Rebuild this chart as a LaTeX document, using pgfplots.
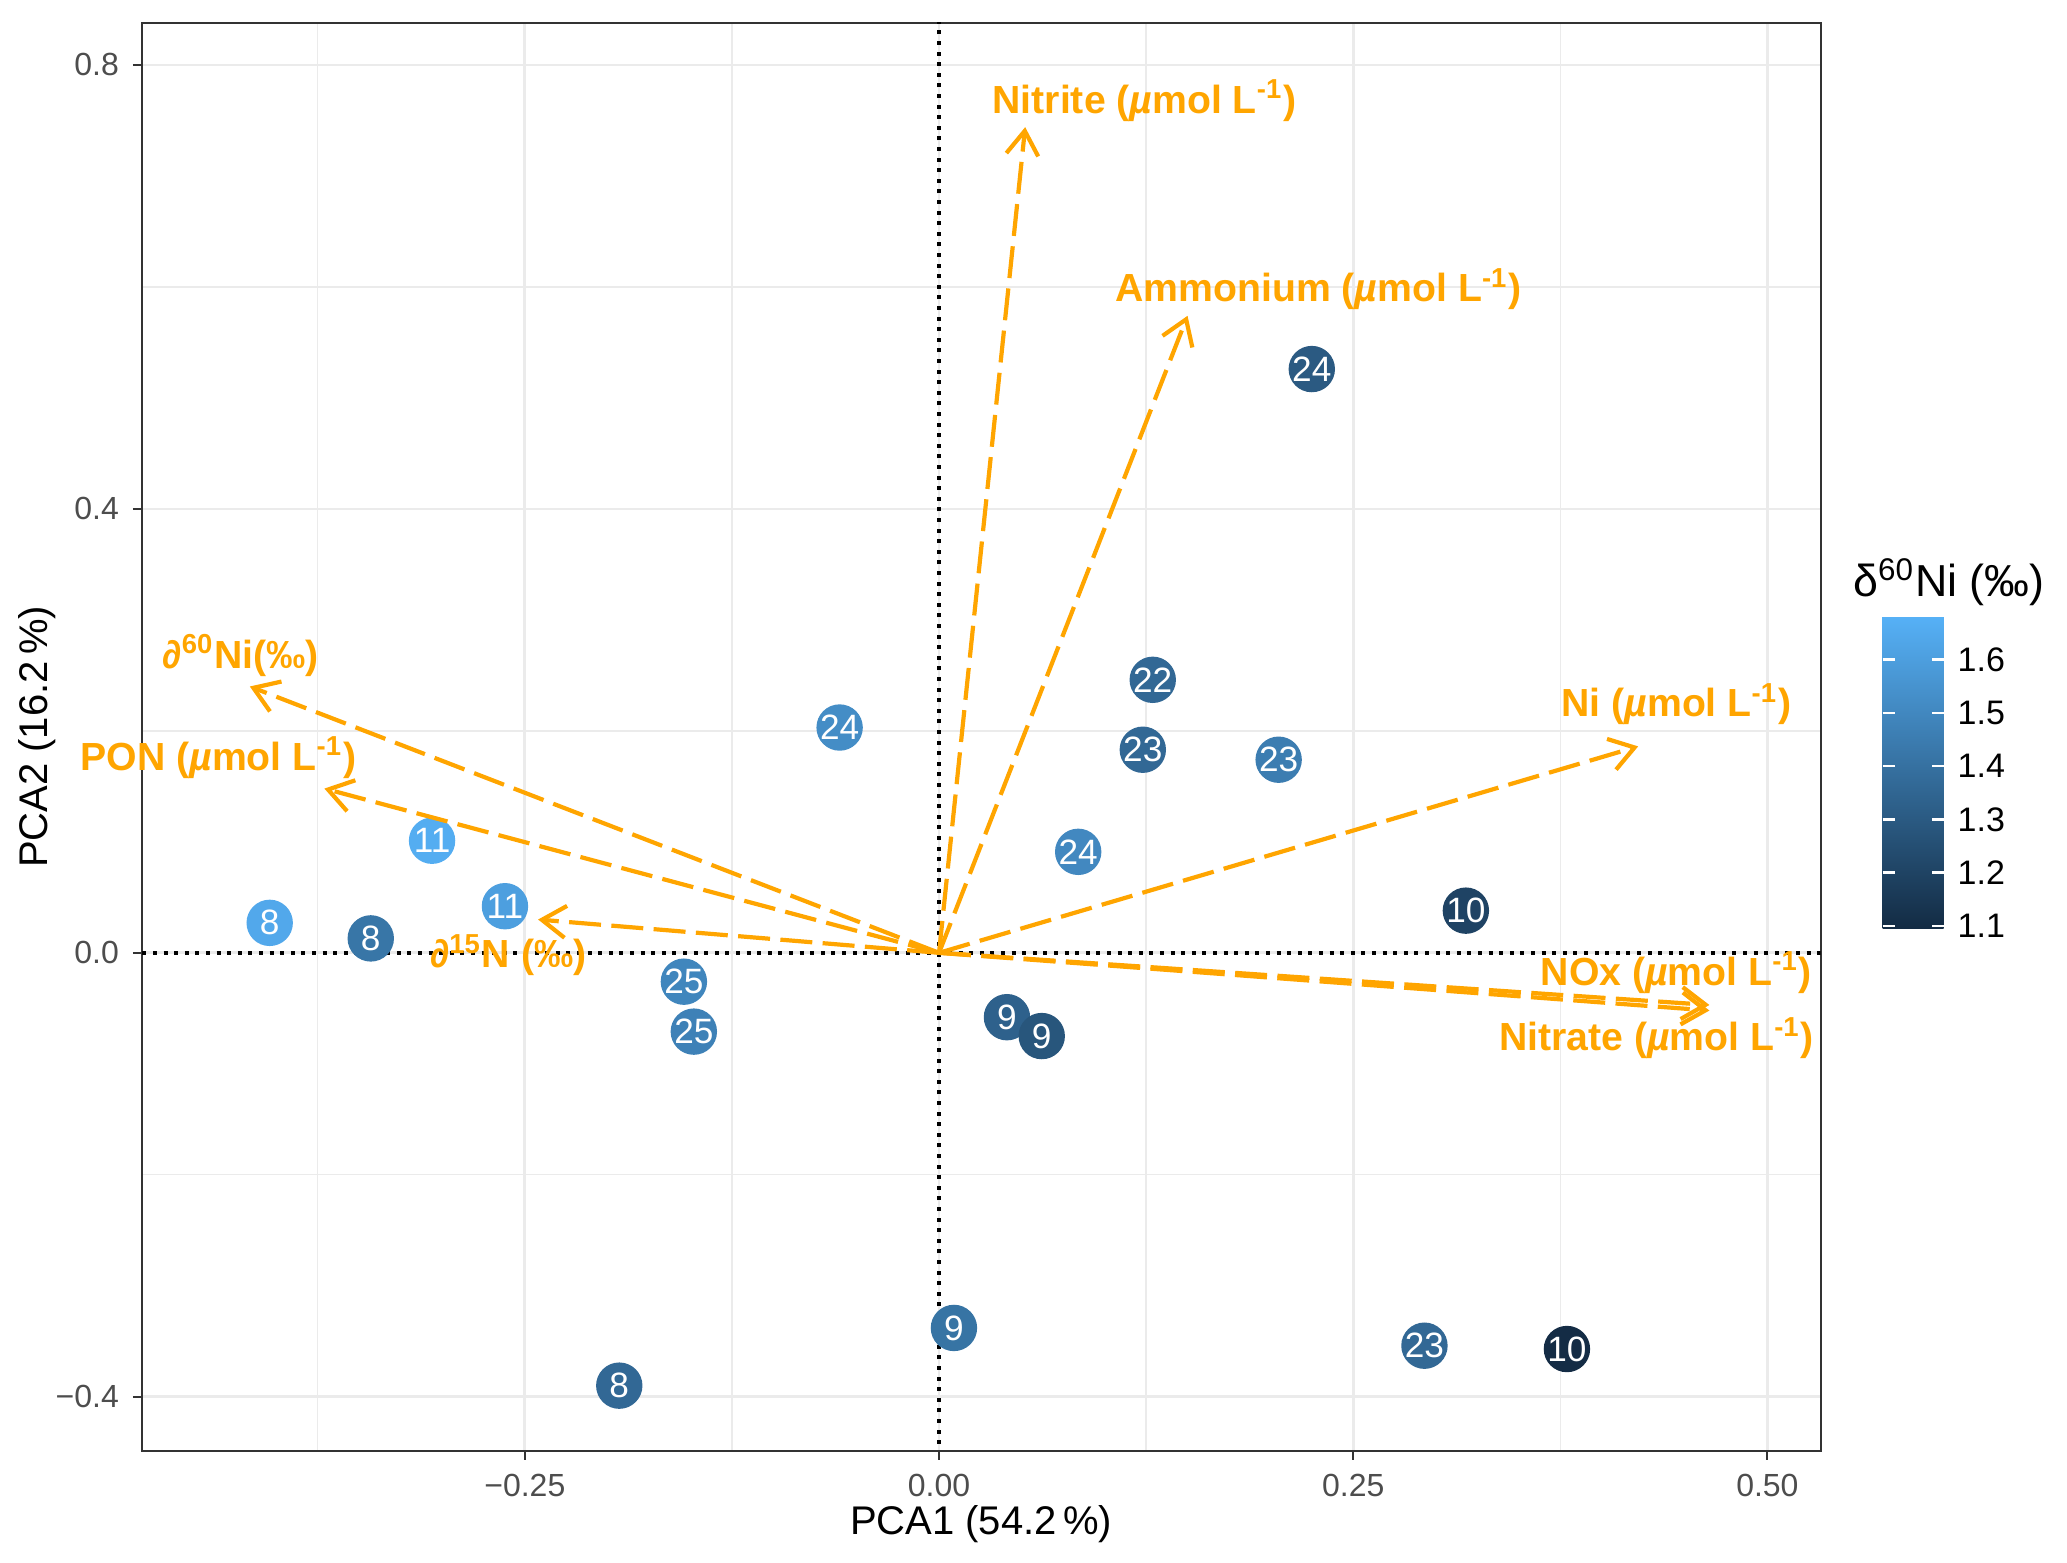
\documentclass[border=0pt]{standalone}
\usepackage{fontspec}
\setmainfont{Liberation Sans}
\usepackage{pgfplots}
\usepackage{pgfplotstable}
\pgfplotsset{compat=1.18}
\usetikzlibrary{arrows.meta}
\definecolor{arr}{HTML}{FFA500}
\definecolor{grid92}{HTML}{EBEBEB}
\definecolor{g30}{HTML}{4D4D4D}
\definecolor{g20}{HTML}{333333}

\pgfplotstableread{
x y c lbl
0.225 0.526 1.30 24
-0.060 0.203 1.52 24
0.129 0.246 1.36 22
0.123 0.183 1.36 23
0.205 0.174 1.45 23
0.084 0.091 1.50 24
0.318 0.038 1.20 10
-0.306 0.101 1.66 11
-0.262 0.042 1.60 11
-0.404 0.027 1.64 8
-0.343 0.013 1.42 8
-0.154 -0.026 1.49 25
-0.148 -0.071 1.47 25
0.041 -0.058 1.33 9
0.062 -0.075 1.28 9
0.009 -0.338 1.41 9
-0.193 -0.390 1.36 8
0.293 -0.354 1.36 23
0.379 -0.357 1.10 10
}\pts

\tikzset{
  lab/.style={text=arr, font=\bfseries\fontsize{9.8}{11}\selectfont, inner sep=0pt, anchor=center},
}
\pgfplotsset{
  arrowsty/.style={draw=arr, line width=1.05pt, dash pattern=on 8pt off 2.6pt,
    -{Straight Barb[length=6pt,width=8pt]}, forget plot, mark=none},
}

\begin{document}
\begin{tikzpicture}
\begin{axis}[name=ax, scale only axis, width=419.7pt, height=357pt,
  xmin=-0.4812, xmax=0.5321, ymin=-0.4487, ymax=0.838,
  xtick={-0.25,0,0.25,0.5}, xticklabels={−0.25,0.00,0.25,0.50},
  ytick={-0.4,0,0.4,0.8}, yticklabels={−0.4,0.0,0.4,0.8},
  minor xtick={-0.375,-0.125,0.125,0.375}, minor ytick={-0.2,0.2,0.6},
  grid=both,
  major grid style={draw=grid92, line width=0.7pt},
  minor grid style={draw=grid92, line width=0.35pt},
  tick align=outside, major tick length=2.2pt, minor tick length=0pt,
  tick pos=left,
  tick style={draw=g20, line width=0.5pt},
  axis line style={draw=g20, line width=0.5pt},
  ticklabel style={font=\fontsize{8}{9}\selectfont, text=g30},
  xlabel={PCA1 (54.2\,\%)}, ylabel={PCA2 (16.2\,\%)},
  label style={font=\fontsize{10}{12}\selectfont},
  xlabel style={at={(axis description cs:0.5,-0.0515)}, anchor=center},
  ylabel style={at={(axis description cs:-0.0622,0.5)}, anchor=center},
  clip mode=individual,
  colormap={gg}{rgb255=(19,43,67) rgb255=(86,177,247)},
  point meta min=1.094, point meta max=1.682,
  colorbar,
  colorbar/width=15.25pt,
  colorbar style={at={(parent axis.north east)}, anchor=north west,
    xshift=6.95pt, yshift=-148.3pt, height=78.25pt,
    ytick={1.1,1.2,1.3,1.4,1.5,1.6}, yticklabels={1.1,1.2,1.3,1.4,1.5,1.6},
    yticklabel pos=right, ytick pos=both, tick align=inside, major tick length=3pt,
    tick style={draw=white, line width=0.6pt},
    axis line style={draw=none},
    yticklabel style={font=\fontsize{8.5}{10}\selectfont, text=black},
  },
]
% reference lines
\addplot[black, line width=1pt, dash pattern=on 1pt off 1.65pt, forget plot, mark=none]
  coordinates {(0,-0.5) (0,0.9)};
\addplot[black, line width=1pt, dash pattern=on 1pt off 1.65pt, forget plot, mark=none]
  coordinates {(-0.5,0) (0.6,0)};
% points
\addplot[scatter, only marks, mark=*, mark size=5.6pt, point meta=explicit,
  scatter/use mapped color={draw=mapped color, fill=mapped color}]
  table[x=x, y=y, meta=c] {\pts};
% point labels
\addplot[only marks, mark=none, point meta=explicit symbolic,
  nodes near coords,
  every node near coord/.append style={anchor=center, text=white,
    font=\fontsize{8.8}{10}\selectfont, inner sep=0pt}]
  table[x=x, y=y, meta=lbl] {\pts};
% loadings
\addplot[arrowsty] coordinates {(0,0) (0.052,0.744)};
\addplot[arrowsty] coordinates {(0,0) (0.150,0.574)};
\addplot[arrowsty] coordinates {(0,0) (0.422,0.186)};
\addplot[arrowsty] coordinates {(0,0) (0.465,-0.047)};
\addplot[arrowsty] coordinates {(0,0) (0.465,-0.052)};
\addplot[arrowsty] coordinates {(0,0) (-0.416,0.240)};
\addplot[arrowsty] coordinates {(0,0) (-0.371,0.148)};
\addplot[arrowsty] coordinates {(0,0) (-0.242,0.030)};
% labels
\node[lab] at (axis cs:0.124,0.768) {Nitrite (\textit{µ}mol L\textsuperscript{-1})};
\node[lab] at (axis cs:0.229,0.598) {Ammonium (\textit{µ}mol L\textsuperscript{-1})};
\node[lab] at (axis cs:0.445,0.224) {Ni (\textit{µ}mol L\textsuperscript{-1})};
\node[lab] at (axis cs:0.445,-0.018) {NOx (\textit{µ}mol L\textsuperscript{-1})};
\node[lab] at (axis cs:0.433,-0.077) {Nitrate (\textit{µ}mol L\textsuperscript{-1})};
\node[lab] at (axis cs:-0.4215,0.268) {∂\textsuperscript{60}Ni(‰)};
\node[lab] at (axis cs:-0.435,0.176) {PON (\textit{µ}mol L\textsuperscript{-1})};
\node[lab] at (axis cs:-0.260,-0.002) {∂\textsuperscript{15}N (‰)};
% colorbar title
\node[anchor=west, inner sep=0pt, font=\fontsize{11.2}{13}\selectfont]
  at (axis description cs:1.019,0.608) {δ\textsuperscript{60}Ni (‰)};
\end{axis}
\pgfresetboundingbox
\path[use as bounding box] ([shift={(-35.45pt,-28.05pt)}]ax.south west)
  rectangle ([shift={(481.3pt,362.7pt)}]ax.south west);
\end{tikzpicture}
\end{document}
